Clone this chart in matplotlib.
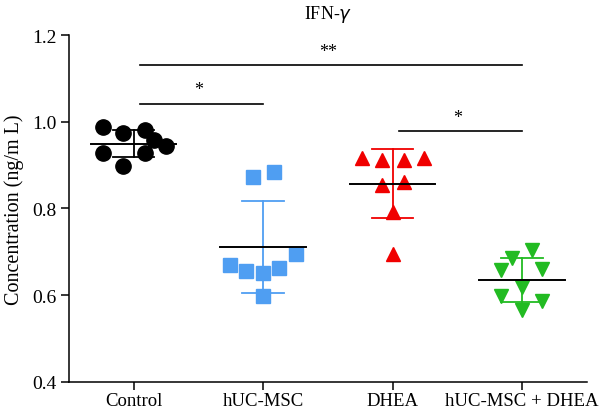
import numpy as np
import matplotlib
matplotlib.use("Agg")
import matplotlib.pyplot as plt

plt.rcParams['font.family'] = ['Liberation Serif', 'DejaVu Serif']

groups = ["Control", "hUC-MSC", "DHEA", "hUC-MSC + DHEA"]
control = [0.989, 0.973, 0.981, 0.958, 0.943, 0.929, 0.927, 0.898]
huc_msc = [0.872, 0.884, 0.669, 0.656, 0.651, 0.663, 0.695, 0.598]
dhea = [0.917, 0.912, 0.911, 0.916, 0.853, 0.861, 0.793, 0.694]
combo = [0.704, 0.686, 0.658, 0.661, 0.620, 0.599, 0.586, 0.565]

# significance: (group i, group j, bar height, label)
sig = [(0, 3, 1.13, "**"), (0, 1, 1.042, "*"), (2, 3, 0.979, "*")]

# horizontal scatter offsets
jitter = [
    [-0.24, -0.08, 0.085, 0.16, 0.25, -0.24, 0.085, -0.08],
    [-0.08, 0.08, -0.26, -0.13, 0.0, 0.12, 0.25, 0.0],
    [-0.24, -0.08, 0.085, 0.24, -0.08, 0.085, 0.0, 0.0],
    [0.08, -0.08, -0.16, 0.155, 0.0, -0.16, 0.155, 0.0],
]
colors = ["black", "#4f9ef2", "#f00000", "#22bb22"]
markers = ["o", "s", "^", "v"]
msizes = [11, 10, 10.5, 10.5]

fig = plt.figure(figsize=(6, 4.14), dpi=100)
ax = fig.add_axes([0.115, 0.075, 0.863, 0.838])

data = [control, huc_msc, dhea, combo]
for i, vals in enumerate(data):
    vals = np.array(vals)
    xs = i + np.array(jitter[i])
    ax.plot(xs, vals, linestyle="none", marker=markers[i], ms=msizes[i],
            color=colors[i], mec=colors[i], zorder=3)
    m = vals.mean()
    sd = vals.std(ddof=1)
    ax.plot([i, i], [m - sd, m + sd], color=colors[i], lw=1.3, zorder=2)
    for y in (m - sd, m + sd):
        ax.plot([i - 0.16, i + 0.16], [y, y], color=colors[i], lw=1.3, zorder=2)
    ax.plot([i - 0.33, i + 0.33], [m, m], color="black", lw=1.4, zorder=4)

for a, b, h, lab in sig:
    ax.plot([a + 0.05, b], [h, h], color="black", lw=1.2)
    ax.text((a + b) / 2, h + 0.012, lab, ha="center", va="bottom",
            fontsize=13)

ax.set_xlim(-0.5, 3.5)
ax.set_ylim(0.4, 1.2)
ax.set_yticks([0.4, 0.6, 0.8, 1.0, 1.2])
ax.set_yticklabels(["0.4", "0.6", "0.8", "1.0", "1.2"])
ax.set_xticks(range(4))
ax.set_xticklabels(groups)
ax.tick_params(labelsize=14, length=5.5, width=1.1)
ax.tick_params(axis="x", pad=1.5, labelsize=13.5)
ax.spines["top"].set_visible(False)
ax.spines["right"].set_visible(False)
ax.spines["left"].set_linewidth(1.1)
ax.spines["bottom"].set_linewidth(1.1)
ax.set_ylabel("Concentration (ng/m L)", fontsize=14.5, labelpad=6)
ax.set_title("IFN-$\\gamma$", fontsize=13, pad=12)

fig.savefig("out.png", dpi=100)
